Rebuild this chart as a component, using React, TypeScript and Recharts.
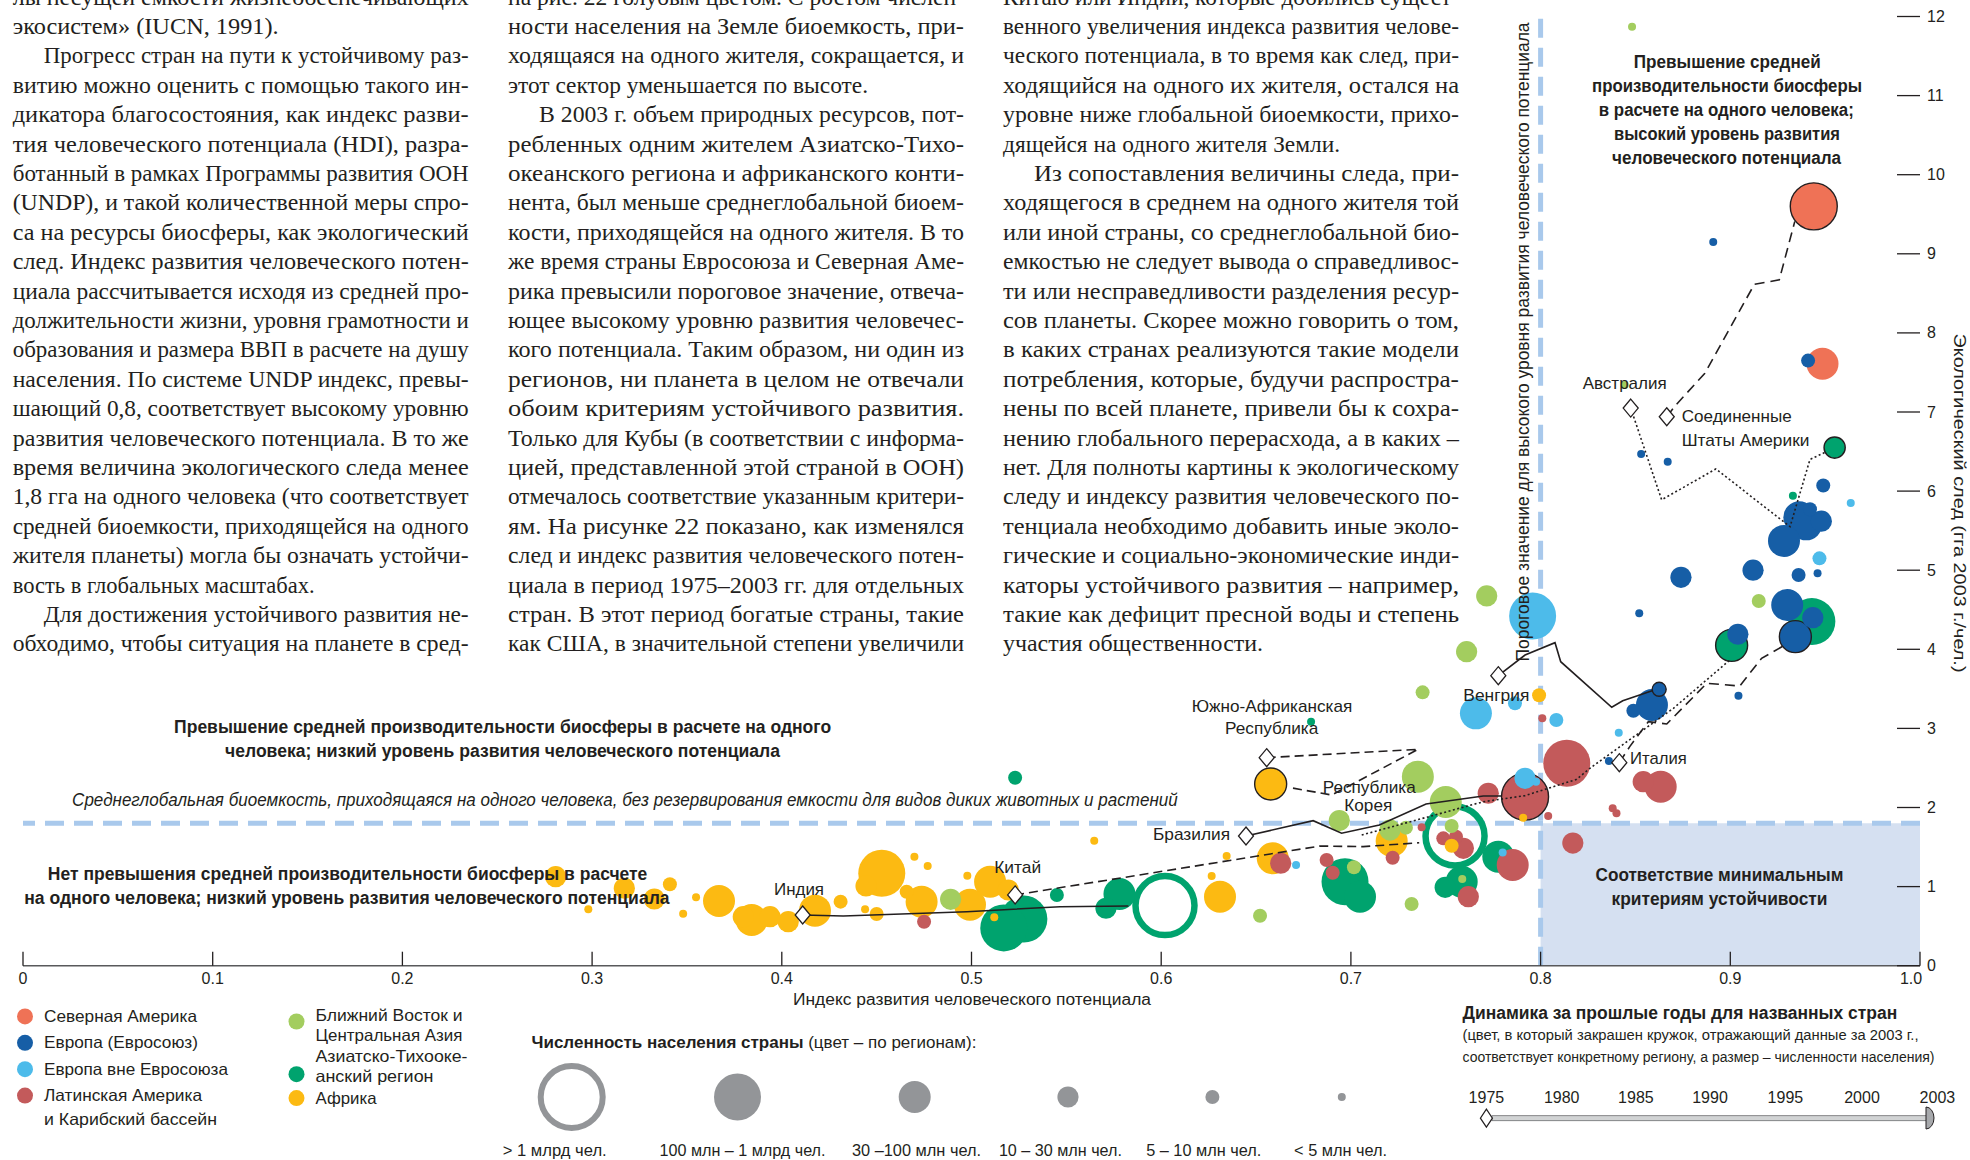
import React from "react";
import { ScatterChart, Scatter, XAxis, YAxis, ReferenceArea, ReferenceLine } from "recharts";

// axes
const xTicks = [0, 0.1, 0.2, 0.3, 0.4, 0.5, 0.6, 0.7, 0.8, 0.9, 1];
const xTickLabels = ["0", "0.1", "0.2", "0.3", "0.4", "0.5", "0.6", "0.7", "0.8", "0.9", "1.0"];
const yTicks = [0, 1, 2, 3, 4, 5, 6, 7, 8, 9, 10, 11, 12];
const globalBiocapacity = 1.8;
const highHdiThreshold = 0.8;

// 2003 values: HDI, footprint (gha/person), population (mln)
type Country = { hdi: number; ef: number; pop: number; name?: string };

const northAmerica: Country[] = [
  { hdi: 0.944, ef: 9.6, pop: 294, name: "США" },
  { hdi: 0.9486, ef: 7.61, pop: 32 },
];

const euUnion: Country[] = [
  { hdi: 0.891, ef: 9.15, pop: 0.5 },
  { hdi: 0.941, ef: 7.65, pop: 5.2 },
  { hdi: 0.853, ef: 6.47, pop: 1.4 },
  { hdi: 0.867, ef: 6.37, pop: 2.3 },
  { hdi: 0.949, ef: 6.07, pop: 8.9 },
  { hdi: 0.9364, ef: 5.67, pop: 60 },
  { hdi: 0.94, ef: 5.58, pop: 59 },
  { hdi: 0.948, ef: 5.62, pop: 10.3 },
  { hdi: 0.942, ef: 5.77, pop: 5.4 },
  { hdi: 0.9283, ef: 5.37, pop: 41 },
  { hdi: 0.912, ef: 5.0, pop: 16 },
  { hdi: 0.936, ef: 4.94, pop: 8.1 },
  { hdi: 0.946, ef: 4.96, pop: 4 },
  { hdi: 0.874, ef: 4.91, pop: 10.2 },
  { hdi: 0.93, ef: 4.56, pop: 82 },
  { hdi: 0.9435, ef: 4.4, pop: 10.4 },
  { hdi: 0.9343, ef: 4.16, pop: 58, name: "Италия" },
  { hdi: 0.852, ef: 4.455, pop: 2 },
  { hdi: 0.904, ef: 4.19, pop: 11 },
  { hdi: 0.9043, ef: 3.413, pop: 2 },
  { hdi: 0.8625, ef: 3.494, pop: 9.9, name: "Венгрия" },
  { hdi: 0.8587, ef: 3.296, pop: 38 },
  { hdi: 0.8489, ef: 3.224, pop: 5.4 },
  { hdi: 0.836, ef: 2.588, pop: 2 },
];

const europeNonEu: Country[] = [
  { hdi: 0.9635, ef: 5.85, pop: 4.6 },
  { hdi: 0.947, ef: 5.15, pop: 7.2 },
  { hdi: 0.7958, ef: 4.42, pop: 143 },
  { hdi: 0.7659, ef: 3.19, pop: 48 },
  { hdi: 0.7865, ef: 3.317, pop: 7.5 },
  { hdi: 0.8083, ef: 3.106, pop: 7.5 },
  { hdi: 0.8412, ef: 2.946, pop: 2 },
  { hdi: 0.7918, ef: 2.369, pop: 10.5 },
  { hdi: 0.7976, ef: 2.327, pop: 2 },
  { hdi: 0.78, ef: 1.43, pop: 2 },
  { hdi: 0.6711, ef: 1.273, pop: 2 },
];

const latinAmerica: Country[] = [
  { hdi: 0.7918, ef: 2.137, pop: 178, name: "Бразилия" },
  { hdi: 0.8138, ef: 2.559, pop: 103 },
  { hdi: 0.8541, ef: 2.326, pop: 16 },
  { hdi: 0.8633, ef: 2.263, pop: 38 },
  { hdi: 0.838, ef: 1.99, pop: 2 },
  { hdi: 0.84, ef: 1.927, pop: 2 },
  { hdi: 0.804, ef: 1.893, pop: 2 },
  { hdi: 0.8009, ef: 3.128, pop: 2 },
  { hdi: 0.817, ef: 1.55, pop: 11 },
  { hdi: 0.7724, ef: 2.18, pop: 26 },
  { hdi: 0.722, ef: 1.365, pop: 7 },
  { hdi: 0.7487, ef: 1.61, pop: 7 },
  { hdi: 0.7554, ef: 1.63, pop: 7 },
  { hdi: 0.7593, ef: 1.484, pop: 13 },
  { hdi: 0.7373, ef: 1.75, pop: 2 },
  { hdi: 0.7853, ef: 1.273, pop: 44 },
  { hdi: 0.7619, ef: 0.872, pop: 13 },
  { hdi: 0.6904, ef: 1.176, pop: 7 },
  { hdi: 0.6872, ef: 1.336, pop: 7 },
  { hdi: 0.663, ef: 1.295, pop: 12 },
  { hdi: 0.475, ef: 0.556, pop: 8 },
];

const middleEast: Country[] = [
  { hdi: 0.8482, ef: 11.87, pop: 3 },
  { hdi: 0.8443, ef: 7.34, pop: 2.5 },
  { hdi: 0.915, ef: 4.61, pop: 6.7 },
  { hdi: 0.7716, ef: 4.675, pop: 22 },
  { hdi: 0.761, ef: 3.97, pop: 15 },
  { hdi: 0.7378, ef: 3.456, pop: 6 },
  { hdi: 0.7353, ef: 2.39, pop: 67 },
  { hdi: 0.75, ef: 2.07, pop: 71 },
  { hdi: 0.6939, ef: 1.835, pop: 18 },
  { hdi: 0.7206, ef: 1.715, pop: 17 },
  { hdi: 0.729, ef: 1.745, pop: 6 },
  { hdi: 0.7531, ef: 1.766, pop: 6 },
  { hdi: 0.7587, ef: 1.096, pop: 3 },
  { hdi: 0.732, ef: 0.78, pop: 5.5 },
  { hdi: 0.7016, ef: 1.244, pop: 6 },
  { hdi: 0.6521, ef: 0.632, pop: 6.5 },
  { hdi: 0.489, ef: 0.839, pop: 20 },
];

const asiaPacific: Country[] = [
  { hdi: 0.7549, ef: 1.64, pop: 1290, name: "Китай" },
  { hdi: 0.602, ef: 0.76, pop: 1065, name: "Индия" },
  { hdi: 0.943, ef: 4.35, pop: 127 },
  { hdi: 0.955, ef: 6.55, pop: 20, name: "Австралия" },
  { hdi: 0.9007, ef: 4.05, pop: 48, name: "Республика Корея" },
  { hdi: 0.933, ef: 5.94, pop: 4 },
  { hdi: 0.523, ef: 2.377, pop: 5.5 },
  { hdi: 0.679, ef: 3.085, pop: 3 },
  { hdi: 0.7777, ef: 1.378, pop: 63 },
  { hdi: 0.7584, ef: 1.062, pop: 80 },
  { hdi: 0.7497, ef: 0.991, pop: 20 },
  { hdi: 0.6969, ef: 1.062, pop: 220 },
  { hdi: 0.7048, ef: 0.872, pop: 81 },
  { hdi: 0.5276, ef: 0.59, pop: 150 },
  { hdi: 0.517, ef: 0.478, pop: 138 },
  { hdi: 0.545, ef: 0.894, pop: 7 },
  { hdi: 0.578, ef: 0.906, pop: 50 },
  { hdi: 0.5709, ef: 0.726, pop: 20 },
];

const africa: Country[] = [
  { hdi: 0.6577, ef: 2.297, pop: 45, name: "ЮАР" },
  { hdi: 0.7992, ef: 3.42, pop: 5.6 },
  { hdi: 0.7908, ef: 1.87, pop: 2 },
  { hdi: 0.7215, ef: 1.577, pop: 32 },
  { hdi: 0.7531, ef: 1.517, pop: 6 },
  { hdi: 0.6588, ef: 1.358, pop: 71 },
  { hdi: 0.6345, ef: 1.387, pop: 2 },
  { hdi: 0.6266, ef: 1.134, pop: 2 },
  { hdi: 0.631, ef: 0.872, pop: 30 },
  { hdi: 0.5647, ef: 1.58, pop: 2 },
  { hdi: 0.5098, ef: 1.062, pop: 32 },
  { hdi: 0.5194, ef: 0.957, pop: 12 },
  { hdi: 0.4978, ef: 1.138, pop: 2 },
  { hdi: 0.4992, ef: 0.77, pop: 31 },
  { hdi: 0.512, ef: 0.612, pop: 2 },
  { hdi: 0.4658, ef: 0.935, pop: 7 },
  { hdi: 0.4737, ef: 0.81, pop: 70 },
  { hdi: 0.4699, ef: 1.378, pop: 2 },
  { hdi: 0.4769, ef: 1.26, pop: 2 },
  { hdi: 0.4527, ef: 1.168, pop: 134 },
  { hdi: 0.4444, ef: 1.008, pop: 12 },
  { hdi: 0.45, ef: 0.654, pop: 7 },
  { hdi: 0.4439, ef: 0.713, pop: 2 },
  { hdi: 0.431, ef: 0.81, pop: 7 },
  { hdi: 0.4175, ef: 0.696, pop: 35 },
  { hdi: 0.4034, ef: 0.556, pop: 12 },
  { hdi: 0.3938, ef: 0.62, pop: 12 },
  { hdi: 0.3841, ef: 0.578, pop: 35 },
  { hdi: 0.3797, ef: 0.62, pop: 12 },
  { hdi: 0.3669, ef: 0.818, pop: 35 },
  { hdi: 0.3548, ef: 0.865, pop: 2 },
  { hdi: 0.348, ef: 0.657, pop: 2 },
  { hdi: 0.341, ef: 1.029, pop: 7 },
  { hdi: 0.3328, ef: 0.843, pop: 12 },
  { hdi: 0.317, ef: 0.979, pop: 12 },
  { hdi: 0.298, ef: 0.713, pop: 2 },
  { hdi: 0.2808, ef: 1.125, pop: 12 },
];

// 1975 -> 2003 tracks, [hdi, footprint]
const indiaTrack = [[0.411, 0.641], [0.4324, 0.628], [0.4975, 0.683], [0.5467, 0.746], [0.5827, 0.755]];
const chinaTrack = [[0.523, 0.895], [0.6837, 1.513], [0.7065, 1.505], [0.736, 1.555]];
const brazilTrack = [[0.6447, 1.64], [0.6801, 1.833], [0.6951, 1.674], [0.715, 1.779], [0.7396, 2.044], [0.7698, 2.145], [0.7795, 2.145]];
const southAfricaTrack = [[0.6556, 2.63], [0.7355, 2.736], [0.6899, 2.158], [0.667, 2.255]];
const koreaTrack = [[0.7057, 1.652], [0.7698, 2.073], [0.7918, 2.15], [0.819, 2.356], [0.826, 2.496], [0.87, 3.254], [0.8998, 3.865]];
const hungaryTrack = [[0.7777, 3.667], [0.7918, 3.928], [0.8076, 4.084], [0.8106, 3.843], [0.8375, 3.267], [0.8433, 3.35], [0.8588, 3.477]];
const italyTrack = [[0.8415, 2.567], [0.847, 2.77], [0.8568, 3.085], [0.8665, 3.056], [0.8876, 3.57], [0.905, 3.536], [0.9165, 3.886], [0.9288, 4.054]];
const australiaTrack = [[0.8475, 7.05], [0.8638, 5.89], [0.8924, 6.28], [0.9315, 5.55], [0.942, 6.4], [0.9508, 6.5]];
const usaTrack = [[0.8665, 6.94], [0.871, 7.08], [0.8866, 7.49], [0.9127, 8.615], [0.9258, 8.67], [0.934, 9.41]];

const regionNames = [
  "Северная Америка", "Европа (Евросоюз)", "Европа вне Евросоюза", "Латинская Америка и Карибский бассейн",
  "Ближний Восток и Центральная Азия", "Азиатско-Тихоокеанский регион", "Африка",
];
const popClassLabels = ["> 1 млрд чел.", "100 млн – 1 млрд чел.", "30 –100 млн чел.", "10 – 30 млн чел.", "5 – 10 млн чел.", "< 5 млн чел."];
const popClassMin = [1000, 100, 30, 10, 5, 0];
const legendYears = ["1975", "1980", "1985", "1990", "1995", "2000", "2003"];

const col1: [string, number][] = [
  ["лы несущей емкости жизнеобеспечивающих", 0],
  ["экосистем» (IUCN, 1991).", 266],
  ["Прогресс стран на пути к устойчивому раз-", 1],
  ["витию можно оценить с помощью такого ин-", 0],
  ["дикатора благосостояния, как индекс разви-", 0],
  ["тия человеческого потенциала (HDI), разра-", 0],
  ["ботанный в рамках Программы развития ООН", 0],
  ["(UNDP), и такой количественной меры спро-", 0],
  ["са на ресурсы биосферы, как экологический", 0],
  ["след. Индекс развития человеческого потен-", 0],
  ["циала рассчитывается исходя из средней про-", 0],
  ["должительности жизни, уровня грамотности и", 0],
  ["образования и размера ВВП в расчете на душу", 0],
  ["населения. По системе UNDP индекс, превы-", 0],
  ["шающий 0,8, соответствует высокому уровню", 0],
  ["развития человеческого потенциала. В то же", 0],
  ["время величина экологического следа менее", 0],
  ["1,8 гга на одного человека (что соответствует", 0],
  ["средней биоемкости, приходящейся на одного", 0],
  ["жителя планеты) могла бы означать устойчи-", 0],
  ["вость в глобальных масштабах.", 302],
  ["Для достижения устойчивого развития не-", 1],
  ["обходимо, чтобы ситуация на планете в сред-", 0],
];
const col2: [string, number][] = [
  ["на рис. 22 голубым цветом. С ростом числен-", 0],
  ["ности населения на Земле биоемкость, при-", 0],
  ["ходящаяся на одного жителя, сокращается, и", 0],
  ["этот сектор уменьшается по высоте.", 360],
  ["В 2003 г. объем природных ресурсов, пот-", 1],
  ["ребленных одним жителем Азиатско-Тихо-", 0],
  ["океанского региона и африканского конти-", 0],
  ["нента, был меньше среднеглобальной биоем-", 0],
  ["кости, приходящейся на одного жителя. В то", 0],
  ["же время страны Евросоюза и Северная Аме-", 0],
  ["рика превысили пороговое значение, отвеча-", 0],
  ["ющее высокому уровню развития человечес-", 0],
  ["кого потенциала. Таким образом, ни один из", 0],
  ["регионов, ни планета в целом не отвечали", 0],
  ["обоим критериям устойчивого развития.", 0],
  ["Только для Кубы (в соответствии с информа-", 0],
  ["цией, представленной этой страной в ООН)", 0],
  ["отмечалось соответствие указанным критери-", 0],
  ["ям. На рисунке 22 показано, как изменялся", 0],
  ["след и индекс развития человеческого потен-", 0],
  ["циала в период 1975–2003 гг. для отдельных", 0],
  ["стран. В этот период богатые страны, такие", 0],
  ["как США, в значительной степени увеличили", 0],
];
const col3: [string, number][] = [
  ["Китаю или Индии, которые добились сущест-", 0],
  ["венного увеличения индекса развития челове-", 0],
  ["ческого потенциала, в то время как след, при-", 0],
  ["ходящийся на одного их жителя, остался на", 0],
  ["уровне ниже глобальной биоемкости, прихо-", 0],
  ["дящейся на одного жителя Земли.", 337],
  ["Из сопоставления величины следа, при-", 1],
  ["ходящегося в среднем на одного жителя той", 0],
  ["или иной страны, со среднеглобальной био-", 0],
  ["емкостью не следует вывода о справедливос-", 0],
  ["ти или несправедливости разделения ресур-", 0],
  ["сов планеты. Скорее можно говорить о том,", 0],
  ["в каких странах реализуются такие модели", 0],
  ["потребления, которые, будучи распростра-", 0],
  ["нены по всей планете, привели бы к сохра-", 0],
  ["нению глобального перерасхода, а в каких –", 0],
  ["нет. Для полноты картины к экологическому", 0],
  ["следу и индексу развития человеческого по-", 0],
  ["тенциала необходимо добавить иные эколо-", 0],
  ["гические и социально-экономические инди-", 0],
  ["каторы устойчивого развития – например,", 0],
  ["такие как дефицит пресной воды и степень", 0],
  ["участия общественности.", 260],
];

const regionColors = ["#ef7256", "#165ea6", "#4dbbea", "#c35a5b", "#a3cd5f", "#00a36e", "#fcba12"];
const ink = "#231f20";
const guideBlue = "#a9c9ec";
const legendGrey = "#939598";
const sans = "'Liberation Sans', Arial, Helvetica, sans-serif";
const serif = "'Liberation Serif', 'Times New Roman', serif";
const classRadius = [29.5, 23.5, 16, 10.6, 7, 4];

const popClass = (pop: number) => popClassMin.findIndex((m) => pop >= m);

const bubbles = [northAmerica, euUnion, europeNonEu, latinAmerica, middleEast, asiaPacific, africa]
  .flatMap((list, region) => list.map((c) => ({ ...c, region })))
  .sort((a, b) => b.pop - a.pop);

const tracks = [
  { pts: indiaTrack, dash: undefined, start: true },
  { pts: chinaTrack, dash: "9 5", start: true },
  { pts: brazilTrack, dash: undefined, start: true },
  { pts: southAfricaTrack, dash: "9 5", start: true },
  { pts: koreaTrack, dash: "2 2.5", start: false },
  { pts: hungaryTrack, dash: undefined, start: true },
  { pts: italyTrack, dash: "10 6", start: true },
  { pts: australiaTrack, dash: "2 2.5", start: true },
  { pts: usaTrack, dash: "10 6", start: true },
].map((t) => ({ ...t, data: t.pts.map(([hdi, ef]) => ({ hdi, ef })) }));

const startPoints = tracks.filter((t) => t.start).map((t) => t.data[0]);

function Bubble(props: any) {
  const { cx, cy, payload } = props;
  if (cx == null || cy == null) return <g />;
  const k = popClass(payload.pop);
  const color = regionColors[payload.region];
  if (k === 0) {
    return <circle cx={cx} cy={cy} r={classRadius[0]} fill="none" stroke={color} strokeWidth={6.5} />;
  }
  return (
    <circle cx={cx} cy={cy} r={classRadius[k]} fill={color}
      stroke={payload.name ? ink : "none"} strokeWidth={1.4} />
  );
}

function Diamond(props: any) {
  const { cx, cy } = props;
  if (cx == null || cy == null) return <g />;
  return (
    <polygon points={`${cx},${cy - 9} ${cx + 7.5},${cy} ${cx},${cy + 9} ${cx - 7.5},${cy}`}
      fill="#fff" stroke={ink} strokeWidth={1.3} />
  );
}

const Nothing = () => <g />;

function XTick(props: any) {
  const { x, y, payload, index } = props;
  // the last label sits left of the corner
  const dx = index === xTicks.length - 1 ? -9 : 0;
  return (
    <g>
      <line x1={x} x2={x} y1={y} y2={y - 14} stroke={ink} strokeWidth={1.3} />
      <text x={x + dx} y={y + 18.5} textAnchor="middle" fontSize={16} fontFamily={sans} fill={ink}>
        {xTickLabels[index] ?? payload.value}
      </text>
    </g>
  );
}

function YTick(props: any) {
  const { x, y, payload } = props;
  return (
    <g>
      <line x1={x} x2={x - 23} y1={y} y2={y} stroke={ink} strokeWidth={1.3} />
      <text x={x + 7} y={y + 5.5} textAnchor="start" fontSize={16} fontFamily={sans} fill={ink}>
        {payload.value}
      </text>
    </g>
  );
}

function T(p: any) {
  const { x, y, w, size = 17, anchor = "start", weight, italic, family = sans, children, transform } = p;
  return (
    <text x={x} y={y} fontSize={size} fontFamily={family} fontWeight={weight} fontStyle={italic ? "italic" : undefined}
      textAnchor={anchor} fill={ink} transform={transform}
      textLength={w} lengthAdjust={w ? "spacingAndGlyphs" : undefined}>
      {children}
    </text>
  );
}

function Column({ x, lines }: { x: number; lines: [string, number][] }) {
  const width = 456;
  return (
    <g>
      {lines.map(([t, k], i) => {
        const indent = k === 1 ? 31 : 0;
        const w = k > 1 ? k : width - indent;
        return (
          <T key={i} x={x + indent} y={34 + 29.4 * (i - 1)} w={w} size={24} family={serif}>{t}</T>
        );
      })}
    </g>
  );
}

export default function App() {
  const regionLegend = [
    { c: 0, dy: 1016.4, x: 25, lines: ["Северная Америка"], ly: [1016.4], w: [153] },
    { c: 1, dy: 1042.8, x: 25, lines: ["Европа (Евросоюз)"], ly: [1042.8], w: [154] },
    { c: 2, dy: 1069.2, x: 25, lines: ["Европа вне Евросоюза"], ly: [1069.2], w: [184] },
    { c: 3, dy: 1095.6, x: 25, lines: ["Латинская Америка", "и Карибский бассейн"], ly: [1095.6, 1119.5], w: [158, 173] },
    { c: 4, dy: 1021.5, x: 296.5, lines: ["Ближний Восток и", "Центральная Азия"], ly: [1015.2, 1035.3], w: [147, 147] },
    { c: 5, dy: 1074.2, x: 296.5, lines: ["Азиатско-Тихооке-", "анский регион"], ly: [1056.7, 1076.8], w: [152, 118] },
    { c: 6, dy: 1098.1, x: 296.5, lines: ["Африка"], ly: [1098.1], w: [61] },
  ];
  const sizeX = [571.7, 737.5, 914.7, 1068, 1212.4, 1341.8];
  const sizeLabelX = [554.7, 742.5, 916.5, 1060.4, 1203.7, 1340.6];
  const sizeLabelW = [104, 166, 129, 123, 115, 93];
  const yearX = [1486.4, 1561.7, 1635.9, 1710, 1785.4, 1862, 1937.4];

  return (
    <div style={{ position: "relative", width: 1970, height: 1160, background: "#fff", overflow: "hidden" }}>
      <style>{"body{margin:0}"}</style>
      <ScatterChart width={1970} height={1160} margin={{ top: 16.5, right: 0, bottom: 0, left: 23 }}>
        <ReferenceArea x1={highHdiThreshold} x2={1} y1={0} y2={globalBiocapacity} fill="#d5e0f1" fillOpacity={1} stroke="none" />
        <ReferenceLine y={globalBiocapacity} stroke={guideBlue} strokeWidth={5} strokeDasharray="19 10" />
        <ReferenceLine x={highHdiThreshold} stroke={guideBlue} strokeWidth={5} strokeDasharray="19 10" />
        <XAxis type="number" dataKey="hdi" domain={[0, 1]} ticks={xTicks} interval={0} height={194.3}
          tickSize={0} tickMargin={0} tickLine={false} axisLine={{ stroke: "#58595b", strokeWidth: 1.5 }}
          tick={(p: any) => <XTick {...p} />} />
        <YAxis type="number" dataKey="ef" domain={[0, 12]} ticks={yTicks} interval={0} orientation="right" width={50}
          tickSize={0} tickMargin={0} tickLine={false} axisLine={false}
          tick={(p: any) => <YTick {...p} />} />
        <Scatter data={bubbles} shape={(p: any) => <Bubble {...p} />} isAnimationActive={false} />
        {tracks.map((t, i) => (
          <Scatter key={i} data={t.data} fill={ink} shape={Nothing} isAnimationActive={false}
            line={{ stroke: ink, strokeWidth: 1.6, strokeDasharray: t.dash, fill: "none" }} />
        ))}
        <Scatter data={startPoints} shape={(p: any) => <Diamond {...p} />} isAnimationActive={false} />
      </ScatterChart>

      <svg width={1970} height={1160} style={{ position: "absolute", left: 0, top: 0, pointerEvents: "none" }}>
        <Column x={12.7} lines={col1} />
        <Column x={508} lines={col2} />
        <Column x={1003} lines={col3} />

        {/* region captions */}
        <T x={502.6} y={732.5} w={657} size={18} anchor="middle" weight="bold">Превышение средней производительности биосферы в расчете на одного</T>
        <T x={502.5} y={756.5} w={555} size={18} anchor="middle" weight="bold">человека; низкий уровень развития человеческого потенциала</T>
        <T x={72.1} y={806} w={1105.6} size={18.5} italic>Среднеглобальная биоемкость, приходящаяся на одного человека, без резервирования емкости для видов диких животных и растений</T>
        <T x={347.6} y={880} w={599.5} size={18} anchor="middle" weight="bold">Нет превышения средней производительности биосферы в расчете</T>
        <T x={346.9} y={904.3} w={645.4} size={18} anchor="middle" weight="bold">на одного человека; низкий уровень развития человеческого потенциала</T>
        <T x={1727.3} y={67.5} w={187} size={18} anchor="middle" weight="bold">Превышение средней</T>
        <T x={1727} y={91.5} w={270} size={18} anchor="middle" weight="bold">производительности биосферы</T>
        <T x={1726.3} y={116} w={255} size={18} anchor="middle" weight="bold">в расчете на одного человека;</T>
        <T x={1727} y={140} w={226} size={18} anchor="middle" weight="bold">высокий уровень развития</T>
        <T x={1726.6} y={164} w={229} size={18} anchor="middle" weight="bold">человеческого потенциала</T>
        <T x={1719.5} y={881} w={248} size={18} anchor="middle" weight="bold">Соответствие минимальным</T>
        <T x={1719.5} y={905} w={216} size={18} anchor="middle" weight="bold">критериям устойчивости</T>
        <T x={0} y={0} w={639} size={17.5} anchor="middle" transform="translate(1529,342) rotate(-90)">Пороговое значение для высокого уровня развития человеческого потенциала</T>

        {/* country labels */}
        <T x={799} y={895.3} w={50} anchor="middle">Индия</T>
        <T x={1017.7} y={872.7} w={47} anchor="middle">Китай</T>
        <T x={1230} y={840} w={77} anchor="end">Бразилия</T>
        <T x={1272} y={712} w={160.6} anchor="middle">Южно-Африканская</T>
        <T x={1271.7} y={734.3} w={93.3} anchor="middle">Республика</T>
        <T x={1369.2} y={792.7} w={93} anchor="middle">Республика</T>
        <T x={1368.3} y={811} w={48} anchor="middle">Корея</T>
        <T x={1529.3} y={701} w={66} anchor="end">Венгрия</T>
        <T x={1630} y={763.7} w={56.7}>Италия</T>
        <T x={1582.7} y={389} w={84}>Австралия</T>
        <T x={1681.7} y={422} w={110}>Соединенные</T>
        <T x={1681.7} y={446} w={127.7}>Штаты Америки</T>

        {/* axis titles */}
        <T x={972} y={1004.5} w={358} size={16} anchor="middle">Индекс развития человеческого потенциала</T>
        <T x={0} y={0} w={339} size={17} anchor="middle" transform="translate(1954,503) rotate(90)">Экологический след (гга 2003 г./чел.)</T>

        {/* region legend */}
        {regionLegend.map((r) => (
          <g key={r.c}>
            <circle cx={r.x} cy={r.dy} r={8} fill={regionColors[r.c]} />
            {r.lines.map((l, j) => (
              <T key={j} x={r.x + 19} y={r.ly[j] + 5.5} w={r.w[j]} size={16.5}>{l}</T>
            ))}
          </g>
        ))}

        {/* population size legend */}
        <text x={531.5} y={1047.5} fontSize={17} fontFamily={sans} fill={ink}>
          <tspan fontWeight="bold">Численность населения страны</tspan>
          <tspan> (цвет – по регионам):</tspan>
        </text>
        {sizeX.map((x, k) =>
          k === 0 ? (
            <circle key={k} cx={x} cy={1097} r={31} fill="none" stroke={legendGrey} strokeWidth={6} />
          ) : (
            <circle key={k} cx={x} cy={1097} r={classRadius[k]} fill={legendGrey} />
          )
        )}
        {popClassLabels.map((l, k) => (
          <T key={k} x={sizeLabelX[k]} y={1155.5} w={sizeLabelW[k]} size={16} anchor="middle">{l}</T>
        ))}

        {/* track legend */}
        <T x={1462.5} y={1018.5} w={434.7} size={17.5} weight="bold">Динамика за прошлые годы для названных стран</T>
        <T x={1462.5} y={1040} w={456} size={14}>(цвет, в который закрашен кружок, отражающий данные за 2003 г.,</T>
        <T x={1462.5} y={1061.5} w={472} size={14}>соответствует конкретному региону, а размер – численности населения)</T>
        {legendYears.map((yv, k) => (
          <T key={yv} x={yearX[k]} y={1103} size={16} anchor="middle">{yv}</T>
        ))}
        <rect x={1492} y={1115.7} width={436} height={5} fill="#d1d3d4" stroke="#6d6e71" strokeWidth={0.8} />
        <polygon points="1486.4,1109.2 1492.4,1118.2 1486.4,1127.2 1480.4,1118.2" fill="#fff" stroke={ink} strokeWidth={1.2} />
        <path d="M1926,1107 A8,11 0 0 1 1926,1129 Z" fill="#a7a9ac" stroke={ink} strokeWidth={1} />
      </svg>
    </div>
  );
}
